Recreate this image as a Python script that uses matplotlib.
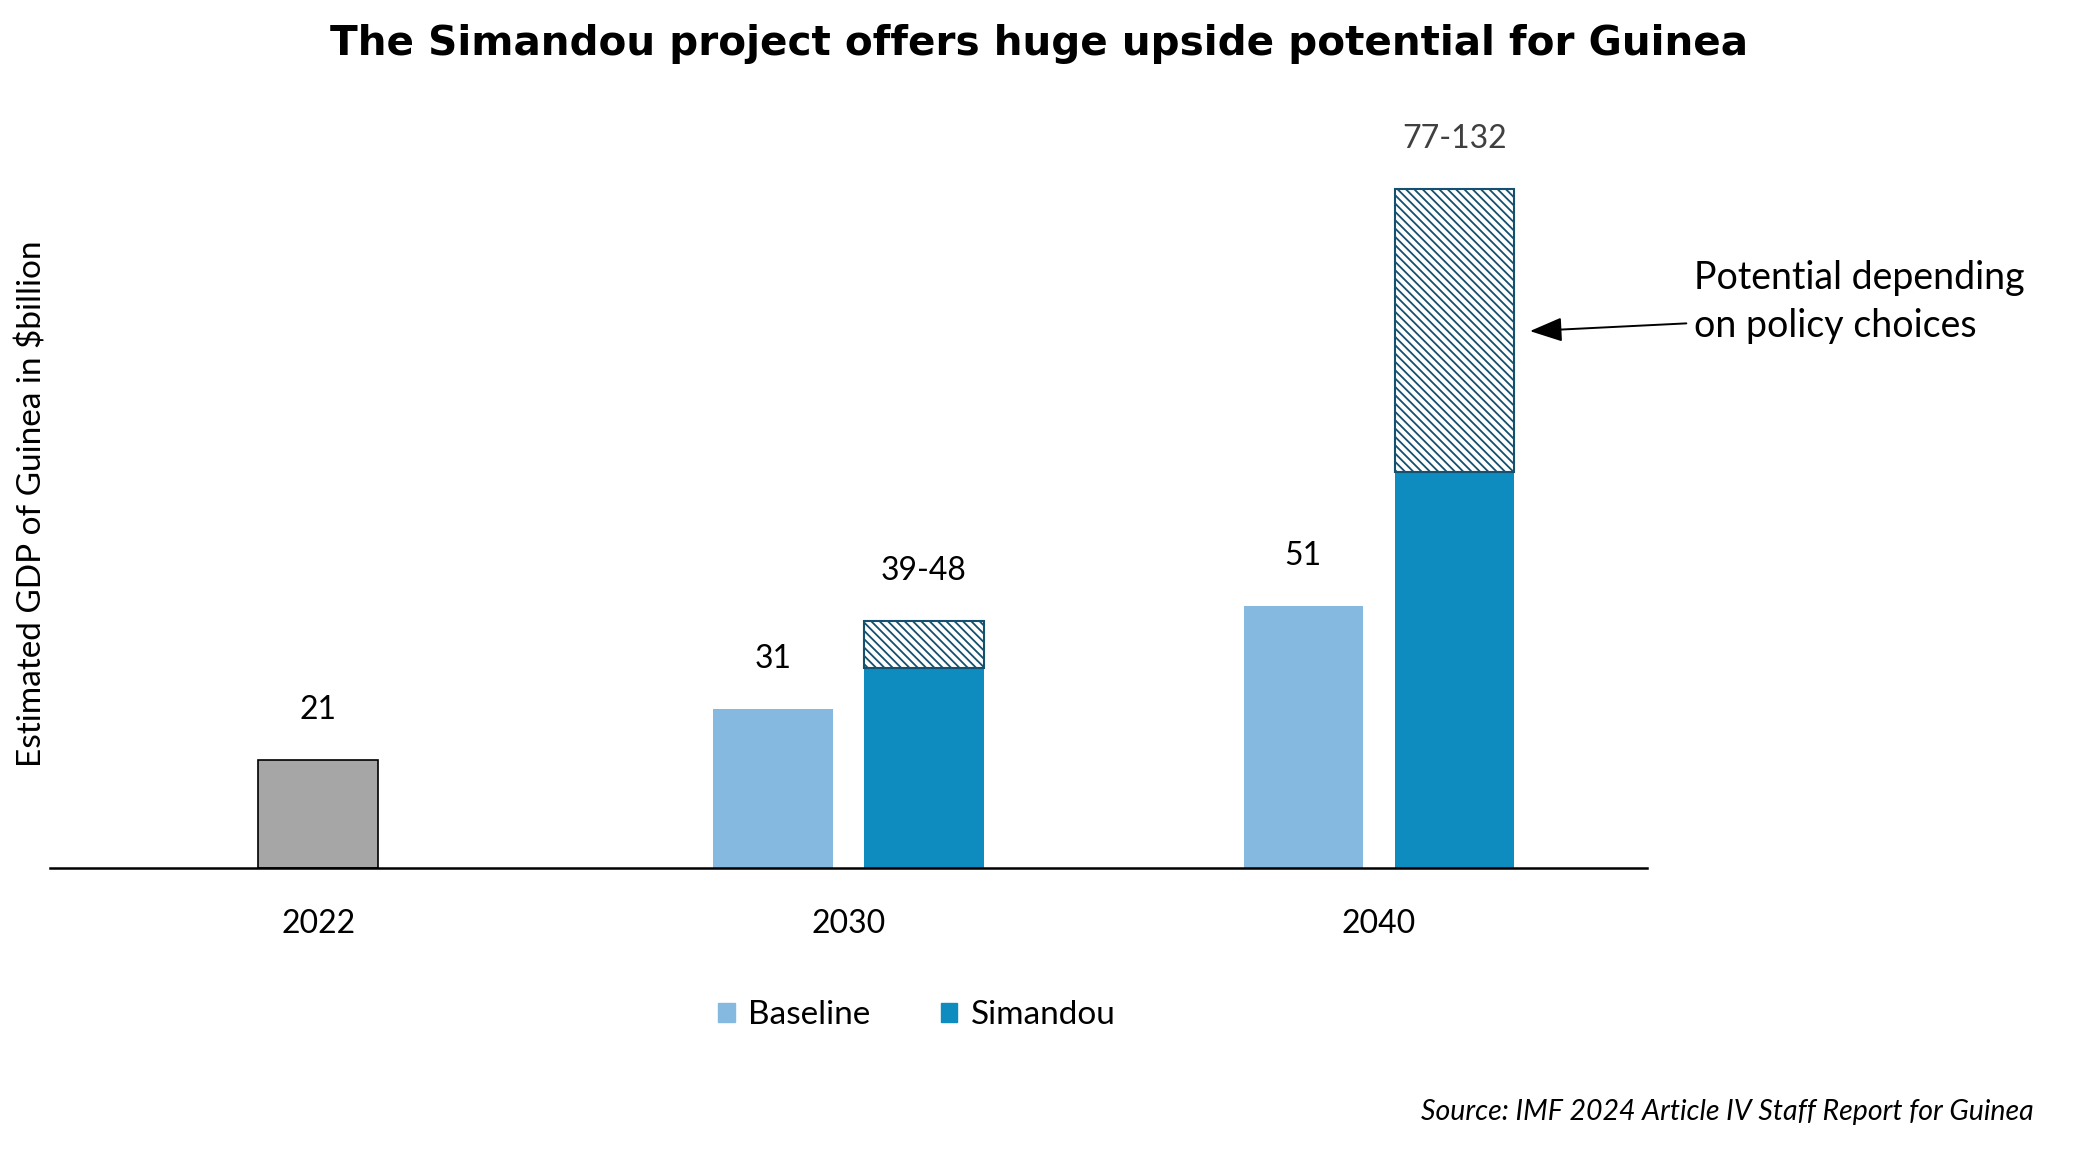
import numpy as np
import matplotlib
matplotlib.use("Agg")
import matplotlib.pyplot as plt
from matplotlib.patches import Patch

# data (GDP, $bn)
years = ["2022", "2030", "2040"]
actual_2022 = 21
baseline = [31, 51]            # 2030, 2040
simandou_low = [39, 77]        # solid part
simandou_high = [48, 132]      # top of hatched range
value_labels = ["39-48", "77-132"]

plt.rcParams['font.family'] = ['Lato', 'DejaVu Sans']
plt.rcParams['hatch.linewidth'] = 1.3

GREY = '#A6A6A6'
LIGHT = '#85B9DF'
DARK = '#0E8BBF'
NAVY = '#16506F'

fig = plt.figure(figsize=(20.79, 11.52), dpi=100)
ax = fig.add_axes([0.0242, 0.2463, 0.7678, 0.632])

x = np.arange(len(years))
w = 0.225
off = 0.1425

# 2022 actual
ax.bar(x[0], actual_2022, width=w, color=GREY, edgecolor='black', linewidth=1.2)
ax.annotate(str(actual_2022), (x[0], actual_2022), xytext=(0, 36), textcoords='offset points',
            ha='center', va='center', fontsize=23)

# baseline and simandou projections
xb = x[1:] - off
xs = x[1:] + off
ax.bar(xb, baseline, width=w, color=LIGHT)
ax.bar(xs, simandou_low, width=w, color=DARK)
rng = [h - l for h, l in zip(simandou_high, simandou_low)]
ax.bar(xs, rng, bottom=simandou_low, width=w, color='white', edgecolor=NAVY,
       hatch='\\\\\\\\', linewidth=1.5)

for xi, v in zip(xb, baseline):
    ax.annotate(str(v), (xi, v), xytext=(0, 36), textcoords='offset points',
                ha='center', va='center', fontsize=23)
for xi, v, lab in zip(xs, simandou_high, value_labels):
    ax.annotate(lab, (xi, v), xytext=(0, 36), textcoords='offset points',
                ha='center', va='center', fontsize=23,
                color='#404040' if v > 100 else 'black')

ax.set_xlim(-0.505, 2.505)
ax.set_ylim(0, 141.5)
ax.set_xticks(x)
ax.set_xticklabels(years, fontsize=23)
ax.tick_params(axis='x', length=0, pad=29)
ax.set_yticks([])
for s in ['top', 'right', 'left']:
    ax.spines[s].set_visible(False)
ax.spines['bottom'].set_linewidth(1.8)

ax.set_ylabel("Estimated GDP of Guinea in $billion", fontsize=24)
ax.yaxis.set_label_coords(-0.002, 0.5)

# note + arrow pointing at the hatched range
ax.text(2.595, 110, "Potential depending\non policy choices", ha='left', va='center',
        fontsize=27, linespacing=1.4)
ax.annotate("", xy=(xs[1] + w / 2 + 0.03, 104.4), xytext=(2.58, 105.9),
            annotation_clip=False,
            arrowprops=dict(arrowstyle='-|>,head_length=2.0,head_width=0.75',
                            color='black', lw=1.4, shrinkA=0, shrinkB=0))

fig.suptitle("The Simandou project offers huge upside potential for Guinea",
             x=0.5, y=0.962, va='center', fontsize=29.2, fontweight='bold',
             family='DejaVu Sans')

handles = [Patch(color=LIGHT, label='Baseline'), Patch(color=DARK, label='Simandou')]
fig.legend(handles=handles, loc='center', bbox_to_anchor=(0.441, 0.119), ncol=2,
           frameon=False, fontsize=24, handlelength=0.5, handleheight=0.5,
           columnspacing=2.1, handletextpad=0.4)

fig.text(0.978, 0.035, "Source: IMF 2024 Article IV Staff Report for Guinea",
         ha='right', va='center', fontsize=20.5, style='italic')

fig.savefig("out.png", dpi=100)
